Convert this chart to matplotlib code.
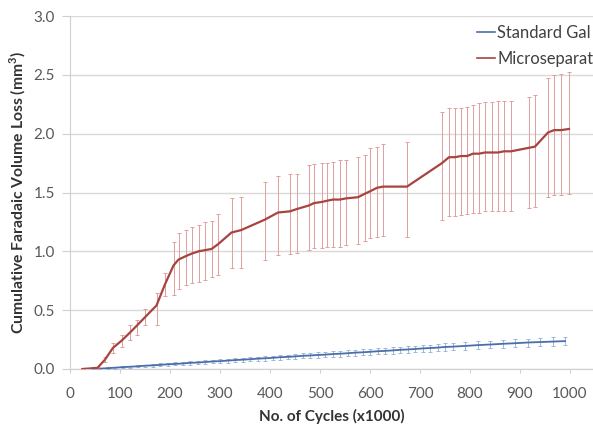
import numpy as np
import matplotlib
matplotlib.use("Agg")
from matplotlib import pyplot as plt
from matplotlib.lines import Line2D

plt.rcParams['font.family'] = ['Lato', 'DejaVu Sans']

# Microseparated series (red)
x_red = [25, 55, 70, 86, 103, 120, 134, 150, 173, 190,
         207, 217, 232, 243, 257, 270, 283, 296, 323, 342,
         390, 416, 440, 454, 478, 488, 504, 514, 526, 540,
         552, 576, 590, 600, 614, 626, 674, 744, 758, 770,
         782, 794, 806, 818, 830, 844, 856, 868, 882, 918,
         930, 956, 968, 982, 998]
y_red = [0.0, 0.01, 0.08, 0.18, 0.24, 0.31, 0.37, 0.44, 0.54, 0.72,
         0.88, 0.93, 0.96, 0.98, 1.00, 1.01, 1.02, 1.06, 1.16, 1.18,
         1.27, 1.33, 1.34, 1.36, 1.39, 1.41, 1.42, 1.43, 1.44, 1.44,
         1.45, 1.46, 1.49, 1.51, 1.54, 1.55, 1.55, 1.75, 1.80, 1.80,
         1.81, 1.81, 1.83, 1.83, 1.84, 1.84, 1.84, 1.85, 1.85, 1.88,
         1.89, 2.01, 2.03, 2.03, 2.04]
err_red_lo = [0.0, 0.01, 0.02, 0.04, 0.05, 0.06, 0.08, 0.07, 0.17, 0.10,
              0.25, 0.25, 0.25, 0.25, 0.26, 0.25, 0.24, 0.26, 0.30, 0.32,
              0.34, 0.36, 0.36, 0.37, 0.38, 0.38, 0.39, 0.39, 0.40, 0.40,
              0.40, 0.40, 0.40, 0.40, 0.42, 0.42, 0.43, 0.48, 0.50, 0.50,
              0.50, 0.49, 0.50, 0.50, 0.50, 0.50, 0.50, 0.51, 0.51, 0.51,
              0.51, 0.55, 0.55, 0.55, 0.55]
err_red_hi = [0.0, 0.01, 0.02, 0.04, 0.05, 0.06, 0.05, 0.07, 0.11, 0.10,
              0.20, 0.23, 0.22, 0.23, 0.22, 0.24, 0.24, 0.26, 0.29, 0.28,
              0.32, 0.31, 0.32, 0.30, 0.34, 0.33, 0.33, 0.32, 0.32, 0.34,
              0.33, 0.34, 0.33, 0.37, 0.35, 0.36, 0.38, 0.43, 0.42, 0.42,
              0.41, 0.42, 0.41, 0.43, 0.43, 0.43, 0.44, 0.43, 0.43, 0.43,
              0.44, 0.46, 0.47, 0.48, 0.48]

# Standard Galvanic series (blue)
x_blue = [25, 45, 60, 75, 90, 105, 120, 135, 150, 165,
          180, 195, 210, 225, 240, 255, 270, 285, 300, 315,
          330, 345, 360, 375, 390, 405, 420, 435, 450, 465,
          480, 495, 510, 525, 540, 555, 570, 585, 600, 615,
          630, 645, 660, 675, 690, 705, 720, 735, 750, 765,
          790, 815, 840, 865, 890, 915, 940, 965, 990]
y_blue = [0.0, 0.0, 0.003, 0.007, 0.011, 0.016, 0.019, 0.023, 0.028, 0.031,
          0.035, 0.040, 0.043, 0.047, 0.052, 0.055, 0.059, 0.064, 0.067, 0.071,
          0.076, 0.079, 0.083, 0.088, 0.091, 0.095, 0.100, 0.103, 0.107, 0.112,
          0.115, 0.119, 0.122, 0.127, 0.130, 0.134, 0.139, 0.142, 0.146, 0.151,
          0.154, 0.158, 0.163, 0.166, 0.170, 0.175, 0.178, 0.182, 0.187, 0.190,
          0.196, 0.203, 0.208, 0.214, 0.219, 0.225, 0.229, 0.233, 0.237]
err_blue = [0.0, 0.003, 0.005, 0.006, 0.007, 0.008, 0.009, 0.010, 0.010, 0.011,
            0.012, 0.012, 0.013, 0.013, 0.014, 0.014, 0.015, 0.015, 0.016, 0.016,
            0.017, 0.017, 0.018, 0.018, 0.019, 0.019, 0.020, 0.020, 0.021, 0.021,
            0.022, 0.022, 0.023, 0.023, 0.024, 0.024, 0.025, 0.025, 0.026, 0.026,
            0.027, 0.027, 0.028, 0.028, 0.029, 0.029, 0.030, 0.030, 0.031, 0.031,
            0.032, 0.032, 0.033, 0.033, 0.034, 0.034, 0.035, 0.035, 0.036]

# legend text as it is visible (cut at the picture edge in the original)
series_labels = ["Standard Gal", "Microseparat"]

x_ticks = [0, 100, 200, 300, 400, 500, 600, 700, 800, 900, 1000]
y_ticks = [0.0, 0.5, 1.0, 1.5, 2.0, 2.5, 3.0]

blue_c = '#4a6fa8'
red_c = '#a8443f'

fig = plt.figure(figsize=(5.93, 4.30), dpi=100)
ax = fig.add_axes([70 / 593, 61 / 430, 523 / 593, 353 / 430])

ax.errorbar(x_blue, y_blue, yerr=err_blue, color=blue_c, lw=1.3,
            ecolor='#9db6dc', elinewidth=0.7, capsize=1.5, capthick=0.7, zorder=3)
ax.errorbar(x_red, y_red, yerr=[err_red_lo, err_red_hi], color=red_c, lw=1.6,
            ecolor='#e0a09e', elinewidth=0.7, capsize=1.5, capthick=0.7, zorder=4)

ax.set_xlim(0, 1046)
ax.set_ylim(0, 3.0)
ax.set_xticks(x_ticks)
ax.set_yticks(y_ticks)
ax.set_yticklabels([f"{v:.1f}" for v in y_ticks])
ax.yaxis.grid(True, color='#d9d9d9', lw=1.0)
ax.set_axisbelow(True)

for s in ['top', 'right']:
    ax.spines[s].set_visible(False)
for s in ['left', 'bottom']:
    ax.spines[s].set_color('#d0d0d0')

ax.tick_params(axis='y', length=6, color='#d0d0d0', pad=5, labelsize=11, labelcolor='#595959')
ax.tick_params(axis='x', length=3, color='#d0d0d0', pad=10, labelsize=11, labelcolor='#595959')

ax.set_xlabel("No. of Cycles (x1000)", fontsize=11, fontweight='bold', color='#333333', labelpad=6)
ax.set_ylabel("Cumulative Faradaic Volume Loss (mm$^\\mathregular{3}$)", fontsize=11.3,
              fontweight='bold', color='#333333', labelpad=4)

handles = [Line2D([], [], color=blue_c, lw=1.2), Line2D([], [], color=red_c, lw=1.2)]
ax.legend(handles, series_labels, loc='upper left',
          bbox_to_anchor=(477 / 593, 1 - 25 / 430), bbox_transform=fig.transFigure,
          frameon=False, fontsize=11.9, handlelength=1.1, handletextpad=0.12,
          labelspacing=0.62, borderpad=0, borderaxespad=0, labelcolor='#404040')

plt.savefig("out.png", dpi=100)
